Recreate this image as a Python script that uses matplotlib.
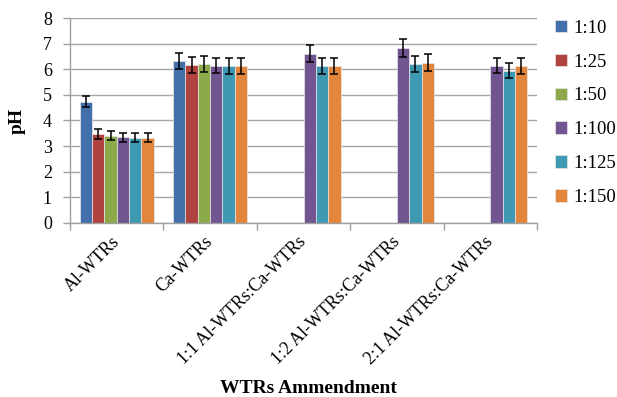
"""Bar chart of pH by WTRs amendment and mixing ratio, with error bars"""

import numpy as np
import matplotlib.pyplot as plt

# amendments on the x axis
amendments = ['Al-WTRs', 'Ca-WTRs', '1:1 Al-WTRs:Ca-WTRs',
              '1:2 Al-WTRs:Ca-WTRs', '2:1 Al-WTRs:Ca-WTRs']

# solid:solution ratios (one series each)
ratios = ['1:10', '1:25', '1:50', '1:100', '1:125', '1:150']

# mean pH per ratio, nan where the ratio was not tested
ph_1_10 = [4.74, 6.34, np.nan, np.nan, np.nan]
ph_1_25 = [3.47, 6.16, np.nan, np.nan, np.nan]
ph_1_50 = [3.41, 6.20, np.nan, np.nan, np.nan]
ph_1_100 = [3.35, 6.15, 6.61, 6.82, 6.15]
ph_1_125 = [3.32, 6.12, 6.13, 6.20, 5.94]
ph_1_150 = [3.32, 6.12, 6.13, 6.26, 6.13]

# standard errors
se_1_10 = [0.23, 0.32, np.nan, np.nan, np.nan]
se_1_25 = [0.20, 0.31, np.nan, np.nan, np.nan]
se_1_50 = [0.18, 0.32, np.nan, np.nan, np.nan]
se_1_100 = [0.18, 0.31, 0.33, 0.35, 0.31]
se_1_125 = [0.18, 0.31, 0.31, 0.32, 0.29]
se_1_150 = [0.18, 0.31, 0.31, 0.33, 0.31]

means = [ph_1_10, ph_1_25, ph_1_50, ph_1_100, ph_1_125, ph_1_150]
errors = [se_1_10, se_1_25, se_1_50, se_1_100, se_1_125, se_1_150]
colors = ['#4370AA', '#B0423F', '#8DAA4A', '#705590', '#3F99B2', '#E3863D']

plt.rcParams['font.family'] = ['Liberation Serif', 'DejaVu Serif']

fig = plt.figure(figsize=(6.17, 3.97), dpi=100)
ax = fig.add_axes([0.1135, 0.439, 0.757, 0.515])

x = np.arange(len(amendments))
bar_w = 0.132
offsets = (np.arange(len(ratios)) - 2.5) * bar_w

for i in range(len(ratios)):
    ax.bar(x + offsets[i], means[i], width=bar_w, color=colors[i],
           edgecolor='#E8E8E8', linewidth=0.5, label=ratios[i], zorder=2)
    ax.errorbar(x + offsets[i], means[i], yerr=errors[i], fmt='none',
                ecolor='black', elinewidth=1.1, capsize=2.6, capthick=1.1,
                zorder=3)

# y axis and grid
ax.set_ylim(0, 8)
ax.set_yticks(range(0, 9))
ax.yaxis.grid(True, color='#A6A6A6', linewidth=1.0, zorder=0)
ax.set_axisbelow(True)
ax.set_xlim(-0.5, len(amendments) - 0.5)

# tick marks sit between categories
ax.set_xticks(np.arange(-0.5, len(amendments)), minor=False)
ax.set_xticklabels([])
ax.set_xticks(x, minor=True)
ax.set_xticklabels(amendments, minor=True, rotation=45, ha='right',
                   va='center', rotation_mode='anchor', fontsize=12.8)
ax.tick_params(axis='x', which='minor', length=0, pad=12)
ax.tick_params(axis='x', which='major', length=5, color='#A0A0A0', width=1)
ax.tick_params(axis='y', length=5, color='#A0A0A0', width=1, labelsize=13,
               pad=8)

for side in ['top', 'right']:
    ax.spines[side].set_visible(False)
for side in ['left', 'bottom']:
    ax.spines[side].set_color('#A0A0A0')
    ax.spines[side].set_linewidth(1.0)

ax.set_ylabel('pH', fontsize=14, fontweight='bold', labelpad=12)
fig.text(0.5, 0.022, 'WTRs Ammendment', ha='center', va='center',
         fontsize=14, fontweight='bold')

ax.legend(loc='upper left', bbox_to_anchor=(0.893, 0.96),
          bbox_transform=fig.transFigure, frameon=False, fontsize=13.5,
          handlelength=0.65, handleheight=0.65, handletextpad=0.35,
          labelspacing=0.9, borderaxespad=0, borderpad=0.2)

fig.savefig('out.png', dpi=100)
